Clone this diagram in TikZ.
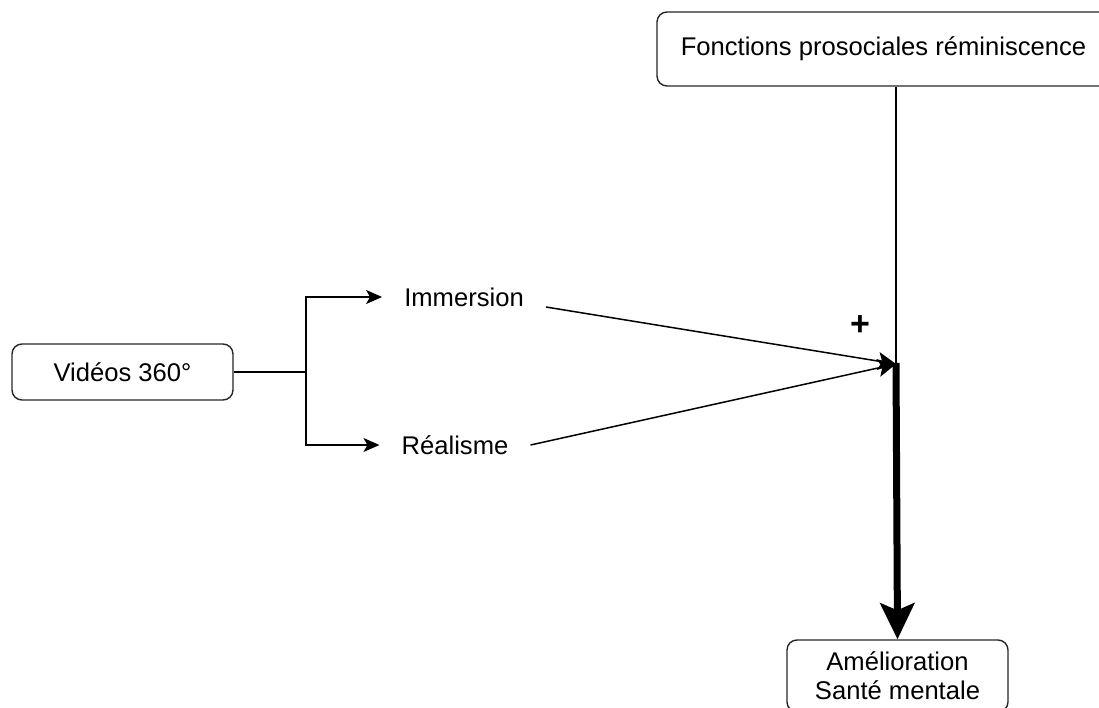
\documentclass[tikz,border=0pt]{standalone}
\usepackage{fontspec}
\setmainfont{Liberation Sans}
\usetikzlibrary{arrows.meta,calc}
\begin{document}
\begin{tikzpicture}[x=1pt,y=-1pt,
  box/.style={draw=black!85,line width=1.4pt,rounded corners=10pt,fill=white,
    inner sep=0pt,align=center,font=\fontsize{25.6}{29}\selectfont},
  lbl/.style={inner xsep=22pt,inner ysep=4pt,font=\fontsize{25.6}{29}\selectfont},
  thinline/.style={line width=1.5pt,draw=black},
  thinarrow/.style={thinline,-{Stealth[length=16pt,width=14pt,inset=4pt]}},
  joinarrow/.style={thinline,-{Stealth[length=18pt,width=18pt,inset=4pt]}},
  thickarrow/.style={line width=7pt,draw=black,-{Stealth[length=36pt,width=34pt,inset=7pt]}}]
\path[use as bounding box] (0,0) rectangle (1099,708);
\clip (0,0) rectangle (1099,708);
% nodes
\node[box,minimum width=453pt,minimum height=74pt] (top) at (883.5,49) {Fonctions prosociales réminiscence};
\node[box,minimum width=221pt,minimum height=56pt] (vid) at (122.5,372) {Vidéos 360°};
\node[box,minimum width=221pt,minimum height=72pt] (bot) at (897.5,676) {Amélioration\\Santé mentale};
\node[lbl] (imm) at (464,297) {Immersion};
\node[lbl] (real) at (455,445) {Réalisme};
\node[font=\fontsize{34}{34}\selectfont\bfseries] (plus) at (860,326) {+};
\coordinate (j) at (896,364);
\coordinate (fork) at (306,372);
% connectors
\draw[thinline] (vid.east) -- (fork);
\draw[thinarrow] (fork) |- (imm.west);
\draw[thinarrow] (fork) |- (real.west);
\draw[joinarrow] ([yshift=-10pt]imm.east) -- (j);
\draw[joinarrow] (real.east) -- (j);
\draw[thinline] (top.south -| j) -- (j);
\draw[thickarrow] ([yshift=1pt]j) -- (bot.north);
\end{tikzpicture}
\end{document}
